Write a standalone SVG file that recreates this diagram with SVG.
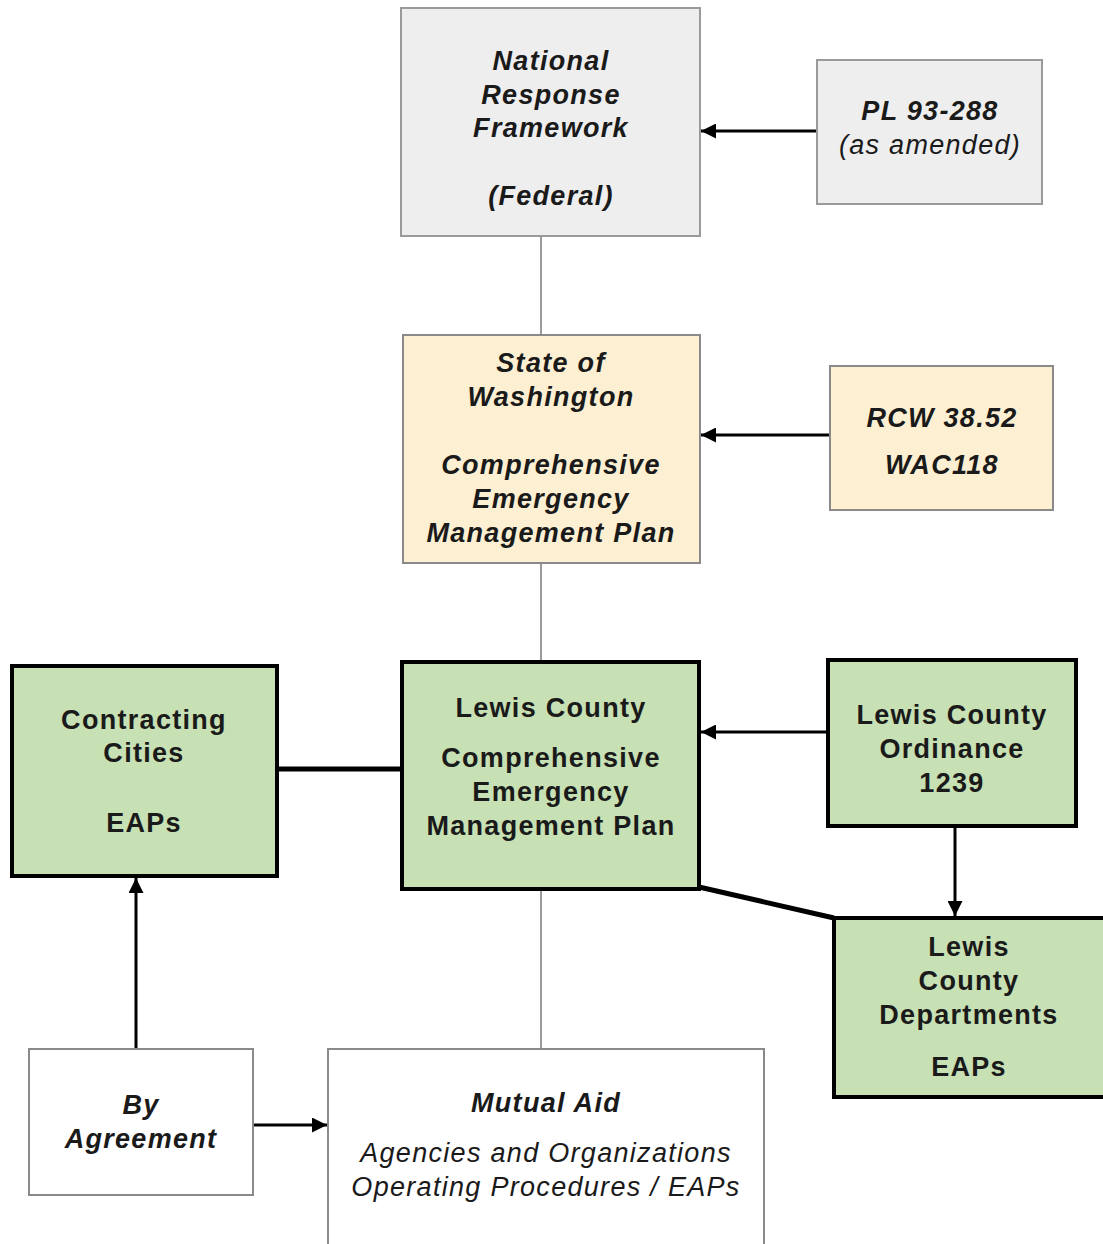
<svg xmlns="http://www.w3.org/2000/svg" width="1103" height="1244" viewBox="0 0 1103 1244">
<style>
text{font-family:"Liberation Sans",Arial,sans-serif;font-size:27px;fill:#1a1a1a;text-anchor:middle;letter-spacing:1.3px}
.bi{font-weight:bold;font-style:italic}
.b{font-weight:bold}
.i{font-style:italic}
.gray{fill:#eeeeee;stroke:#9a9a9a;stroke-width:2}
.tan{fill:#fdf0d2;stroke:#8a8a8a;stroke-width:2}
.green{fill:#c7e0b4;stroke:#000;stroke-width:4}
.white{fill:#fff;stroke:#8a8a8a;stroke-width:2}
.thin{stroke:#9a9a9a;stroke-width:2;fill:none}
.arr{stroke:#000;stroke-width:3;fill:none;marker-end:url(#ah)}
.thick{stroke:#000;stroke-width:5;fill:none}
</style>
<defs>
<marker id="ah" viewBox="0 0 10 10" refX="10" refY="5" markerWidth="5" markerHeight="5" orient="auto" markerUnits="strokeWidth">
<path d="M0,0 L10,5 L0,10 z" fill="#000"/>
</marker>
</defs>
<rect width="1103" height="1244" fill="#fff"/>
<g id="connectors">
<line class="thin" x1="541" y1="236" x2="541" y2="335"/>
<line class="thin" x1="541" y1="563" x2="541" y2="662"/>
<line class="thin" x1="541" y1="889" x2="541" y2="1049"/>
<line class="arr" x1="817" y1="131" x2="701" y2="131"/>
<line class="arr" x1="830" y1="435" x2="701" y2="435"/>
<line class="arr" x1="828" y1="732" x2="701" y2="732"/>
<line class="arr" x1="955" y1="826" x2="955" y2="916"/>
<line class="arr" x1="136" y1="1049" x2="136" y2="878"/>
<line class="arr" x1="253" y1="1125" x2="327" y2="1125"/>
<line class="thick" x1="277" y1="769" x2="402" y2="769"/>
<polyline class="thick" points="699,887 834,918"/>
</g>
<g id="nrf">
<rect class="gray" x="401" y="8" width="299" height="228"/>
<text class="bi" x="551" y="70">National</text>
<text class="bi" x="551" y="104">Response</text>
<text class="bi" x="551" y="137">Framework</text>
<text class="bi" x="551" y="205">(Federal)</text>
</g>
<g id="pl">
<rect class="gray" x="817" y="60" width="225" height="144"/>
<text class="bi" x="930" y="120">PL 93-288</text>
<text class="i" x="930" y="154">(as amended)</text>
</g>
<g id="state">
<rect class="tan" x="403" y="335" width="297" height="228"/>
<text class="bi" x="551" y="372">State of</text>
<text class="bi" x="551" y="406">Washington</text>
<text class="bi" x="551" y="474">Comprehensive</text>
<text class="bi" x="551" y="508">Emergency</text>
<text class="bi" x="551" y="542">Management Plan</text>
</g>
<g id="rcw">
<rect class="tan" x="830" y="366" width="223" height="144"/>
<text class="bi" x="942" y="427">RCW 38.52</text>
<text class="bi" x="942" y="474">WAC118</text>
</g>
<g id="cities">
<rect class="green" x="12" y="666" width="265" height="210"/>
<text class="b" x="144" y="729">Contracting</text>
<text class="b" x="144" y="762">Cities</text>
<text class="b" x="144" y="832">EAPs</text>
</g>
<g id="lewis-cemp">
<rect class="green" x="402" y="662" width="297" height="227"/>
<text class="b" x="551" y="717">Lewis County</text>
<text class="b" x="551" y="767">Comprehensive</text>
<text class="b" x="551" y="801">Emergency</text>
<text class="b" x="551" y="835">Management Plan</text>
</g>
<g id="ordinance">
<rect class="green" x="828" y="660" width="248" height="166"/>
<text class="b" x="952" y="724">Lewis County</text>
<text class="b" x="952" y="758">Ordinance</text>
<text class="b" x="952" y="792">1239</text>
</g>
<g id="departments">
<rect class="green" x="834" y="918" width="275" height="179"/>
<text class="b" x="969" y="956">Lewis</text>
<text class="b" x="969" y="990">County</text>
<text class="b" x="969" y="1024">Departments</text>
<text class="b" x="969" y="1076">EAPs</text>
</g>
<g id="agreement">
<rect class="white" x="29" y="1049" width="224" height="146"/>
<text class="bi" x="141" y="1114">By</text>
<text class="bi" x="141" y="1148">Agreement</text>
</g>
<g id="mutual-aid">
<rect class="white" x="328" y="1049" width="436" height="210"/>
<text class="bi" x="546" y="1112">Mutual Aid</text>
<text class="i" x="546" y="1162">Agencies and Organizations</text>
<text class="i" x="546" y="1196">Operating Procedures / EAPs</text>
</g>
</svg>
